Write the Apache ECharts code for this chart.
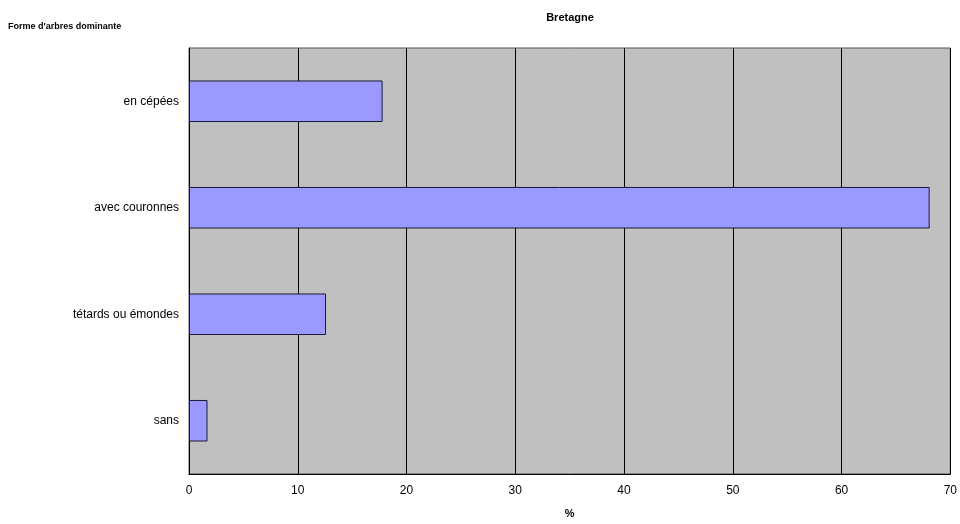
<!DOCTYPE html>
<html>
<head>
<meta charset="utf-8">
<script src="https://cdn.jsdelivr.net/npm/echarts@6/dist/echarts.min.js"></script>
<style>html,body{margin:0;padding:0;background:#fff}#c{width:960px;height:524px}</style>
</head>
<body>
<div id="c"></div>
<script>
const categories = ['en cépées', 'avec couronnes', 'tétards ou émondes', 'sans'];
const values = [17.8, 68.1, 12.6, 1.7];
const xTicks = [0, 10, 20, 30, 40, 50, 60, 70];

const chart = echarts.init(document.getElementById('c'), null, {renderer: 'canvas'});
chart.setOption({
  animation: false,
  backgroundColor: '#ffffff',
  textStyle: {fontFamily: 'Liberation Sans, Arial, sans-serif'},
  title: [
    {text: 'Bretagne', left: 570, top: 12, textAlign: 'center', padding: 0,
     textStyle: {fontSize: 11, fontWeight: 'bold', color: '#000', fontFamily: 'Liberation Sans, Arial, sans-serif'}},
    {text: "Forme d'arbres dominante", left: 8, top: 22, padding: 0,
     textStyle: {fontSize: 9, fontWeight: 'bold', color: '#000', fontFamily: 'Liberation Sans, Arial, sans-serif'}}
  ],
  grid: {left: 189, right: 8, top: 48, bottom: 45, show: true,
         backgroundColor: '#c0c0c0', borderColor: '#555', borderWidth: 1},
  xAxis: {
    type: 'value', min: xTicks[0], max: xTicks[xTicks.length - 1], interval: 10,
    name: '%', nameLocation: 'middle', nameGap: 34,
    nameTextStyle: {fontSize: 11, fontWeight: 'bold', color: '#000'},
    axisLine: {show: true, lineStyle: {color: '#000'}},
    axisTick: {show: false},
    axisLabel: {color: '#000', fontSize: 12, margin: 11},
    splitLine: {show: true, lineStyle: {color: '#000', width: 1}}
  },
  yAxis: {
    type: 'category', data: categories, inverse: true,
    axisLine: {show: true, lineStyle: {color: '#000'}},
    axisTick: {show: false},
    axisLabel: {color: '#000', fontSize: 12, margin: 10}
  },
  series: [{
    type: 'bar', data: values, barWidth: '39%',
    itemStyle: {color: '#9999ff', borderColor: '#1a1a33', borderWidth: 1}
  }]
});
</script>
</body>
</html>
